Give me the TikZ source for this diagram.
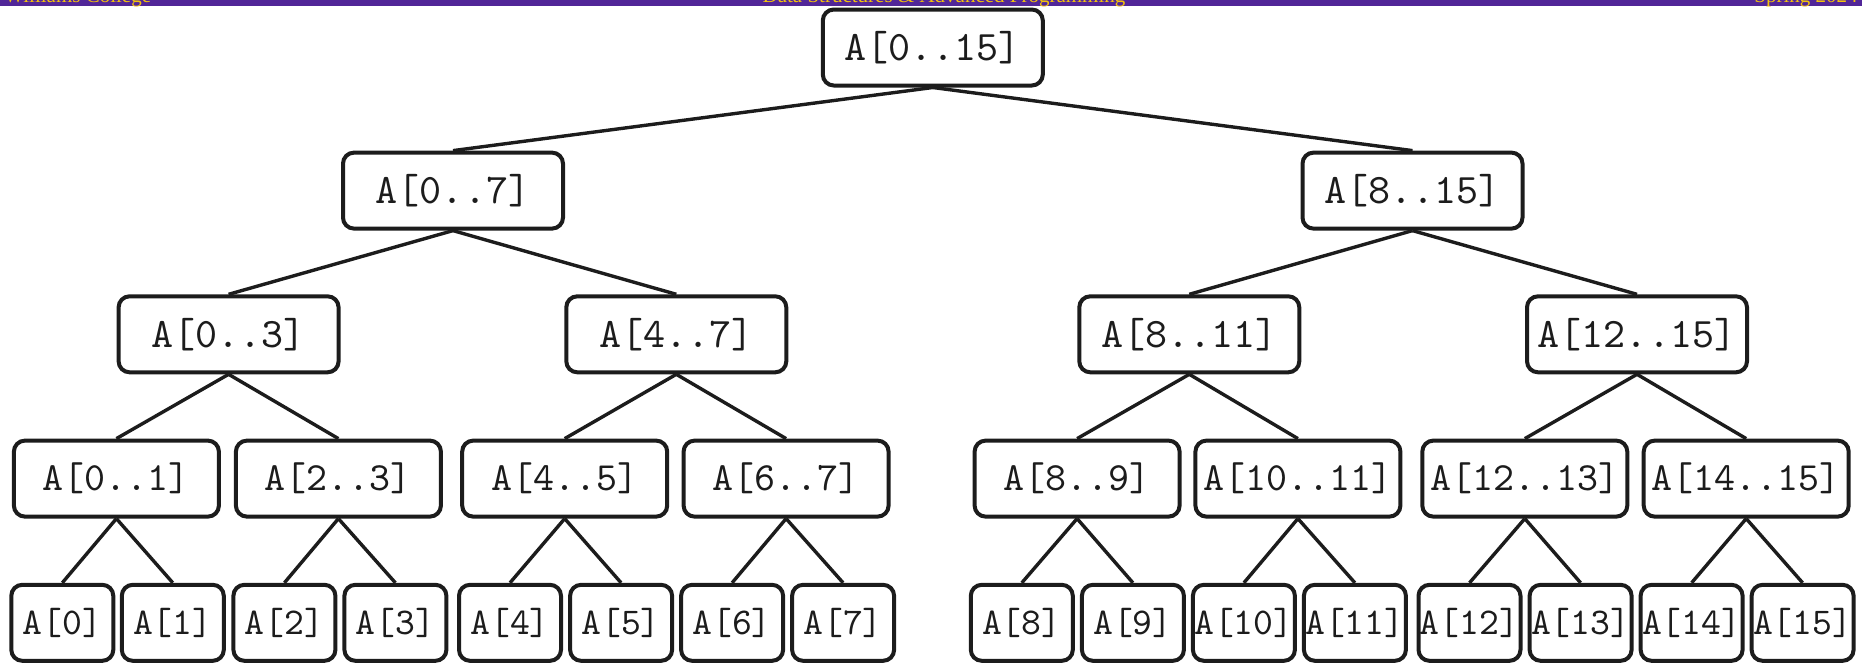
\documentclass[tikz,border=0pt]{standalone}
\usepackage{fontspec}
\setmainfont{Liberation Serif}
\newfontfamily\treefont{lmmono10-regular.otf}
\definecolor{barpurple}{HTML}{512698}
\definecolor{bargold}{HTML}{F2C20C}
\definecolor{ink}{HTML}{1C1C1C}
\tikzset{
  seg/.style={draw=ink, line width=2pt, rounded corners=5.5pt, fill=white,
    text=ink, inner sep=0pt, minimum width=110pt, minimum height=38pt,
    font=\treefont\fontsize{21}{22}\selectfont},
  pairseg/.style={seg, minimum width=102.5pt, font=\treefont\fontsize{20}{22}\selectfont},
  leaf/.style={seg, minimum width=51pt, font=\treefont\fontsize{18.9}{22}\selectfont},
  link/.style={draw=ink, line width=1.7pt},
  bartext/.style={text=bargold, inner sep=0pt, font=\fontsize{10.5}{12}\selectfont}
}
\begin{document}
\begin{tikzpicture}[x=0.5pt, y=-0.5pt]
  \useasboundingbox (0,0) rectangle (1862,666);

  % header strip
  \fill[barpurple] (0,0) rectangle (1862,6);
  \node[bartext, anchor=base west] (hl) at (4,2.4) {Williams College};
  \node[bartext, anchor=base] (hc) at (944,2.4) {Data Structures \& Advanced Programming};
  \node[bartext, anchor=base east] (hr) at (1858,2.4) {Spring 2024};

  % root and halves
  \node[seg] (r) at (932.8,47.5) {A[0..15]};
  \node[seg] (h0) at (453.0,190.6) {A[0..7]};
  \node[seg] (h1) at (1412.5,190.6) {A[8..15]};

  % quarters
  \node[seg] (q0) at (228.6,334.3) {A[0..3]};
  \node[seg] (q1) at (676.3,334.3) {A[4..7]};
  \node[seg] (q2) at (1189.3,334.3) {A[8..11]};
  \node[seg] (q3) at (1637.0,334.3) {A[12..15]};

  % pairs
  \node[pairseg] (p0) at (116.4,478.6) {A[0..1]};
  \node[pairseg] (p1) at (338.4,478.6) {A[2..3]};
  \node[pairseg] (p2) at (564.7,478.6) {A[4..5]};
  \node[pairseg] (p3) at (786.1,478.6) {A[6..7]};
  \node[pairseg] (p4) at (1077.1,478.6) {A[8..9]};
  \node[pairseg] (p5) at (1297.9,478.6) {A[10..11]};
  \node[pairseg] (p6) at (1524.8,478.6) {A[12..13]};
  \node[pairseg] (p7) at (1746.2,478.6) {A[14..15]};

  % single elements
  \node[leaf] (l0) at (62.3,622.8) {A[0]};
  \node[leaf] (l1) at (172.8,622.8) {A[1]};
  \node[leaf] (l2) at (284.4,622.8) {A[2]};
  \node[leaf] (l3) at (395.4,622.8) {A[3]};
  \node[leaf] (l4) at (510.0,622.8) {A[4]};
  \node[leaf] (l5) at (621.1,622.8) {A[5]};
  \node[leaf] (l6) at (732.1,622.8) {A[6]};
  \node[leaf] (l7) at (843.1,622.8) {A[7]};
  \node[leaf] (l8) at (1021.8,622.8) {A[8]};
  \node[leaf] (l9) at (1132.9,622.8) {A[9]};
  \node[leaf] (l10) at (1243.9,622.8) {A[10]};
  \node[leaf] (l11) at (1354.9,622.8) {A[11]};
  \node[leaf] (l12) at (1469.5,622.8) {A[12]};
  \node[leaf] (l13) at (1580.6,622.8) {A[13]};
  \node[leaf] (l14) at (1691.6,622.8) {A[14]};
  \node[leaf] (l15) at (1802.6,622.8) {A[15]};

  % tree edges
  \foreach \p/\c in {r/h0, r/h1, h0/q0, h0/q1, h1/q2, h1/q3,
      q0/p0, q0/p1, q1/p2, q1/p3, q2/p4, q2/p5, q3/p6, q3/p7,
      p0/l0, p0/l1, p1/l2, p1/l3, p2/l4, p2/l5, p3/l6, p3/l7,
      p4/l8, p4/l9, p5/l10, p5/l11, p6/l12, p6/l13, p7/l14, p7/l15}
    \draw[link] (\p.south) -- (\c.north);
\end{tikzpicture}
\end{document}
